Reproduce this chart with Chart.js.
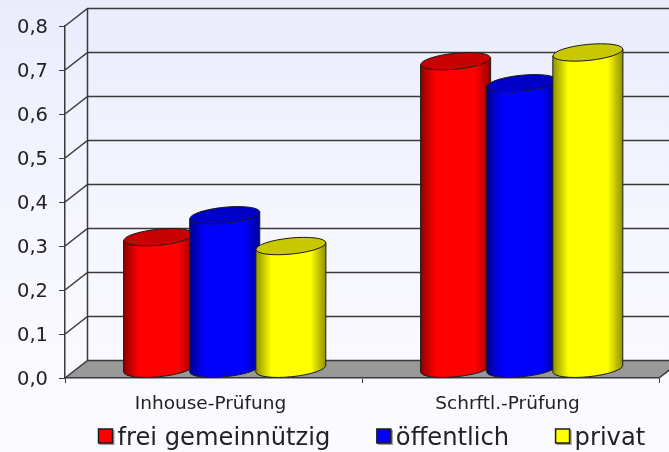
<!DOCTYPE html>
<html>
<head>
<meta charset="utf-8">
<style>html,body{margin:0;padding:0;background:#fafaff;overflow:hidden}canvas{display:block}</style>
<script src="https://cdn.jsdelivr.net/npm/chart.js@4"></script>
</head>
<body>
<canvas id="c" width="669" height="452"></canvas>
<script>
const categories = ["Inhouse-Prüfung", "Schrftl.-Prüfung"];
const freiGemeinnuetzig = [0.30, 0.70];
const oeffentlich = [0.35, 0.65];
const privat = [0.28, 0.72];
const seriesNames = ["frei gemeinnützig", "öffentlich", "privat"];
const seriesColors = ["#ff0000", "#0000ff", "#ffff00"];
const edgeColors = ["#900000", "#000090", "#909000"];
const capColors = ["#c80000", "#0000c8", "#c8c800"];

const DX = 22.5, DY = 17.5, RY = 8, TILT = -0.1;
const FONT = '"DejaVu Sans", sans-serif';
const LINE = "#3a3a3a", TEXT = "#222222";

const scene = {
  id: "scene",
  beforeDraw(chart) {
    const { ctx, width, height, scales: { y }, chartArea: a } = chart;
    const bg = ctx.createLinearGradient(0, 0, 0, height);
    bg.addColorStop(0, "#eaecfc");
    bg.addColorStop(0.55, "#f6f7fe");
    bg.addColorStop(1, "#fbfbff");
    ctx.save();
    ctx.fillStyle = bg;
    ctx.fillRect(0, 0, width, height);
    const y0 = y.getPixelForValue(0);
    ctx.fillStyle = "#999999";
    ctx.beginPath();
    ctx.moveTo(a.left, y0);
    ctx.lineTo(a.left + DX, y0 - DY);
    ctx.lineTo(a.right + DX, y0 - DY);
    ctx.lineTo(a.right, y0);
    ctx.closePath();
    ctx.fill();
    ctx.strokeStyle = LINE;
    ctx.lineWidth = 1.5;
    y.ticks.forEach(t => {
      const p = y.getPixelForValue(t.value);
      ctx.beginPath();
      ctx.moveTo(a.left, p);
      ctx.lineTo(a.left + DX, p - DY);
      ctx.lineTo(width + 2, p - DY);
      ctx.stroke();
    });
    ctx.beginPath();
    ctx.moveTo(a.left + DX, y.getPixelForValue(y.max) - DY);
    ctx.lineTo(a.left + DX, y0 - DY);
    ctx.stroke();
    ctx.beginPath();
    ctx.moveTo(a.right, y0);
    ctx.lineTo(a.right + DX, y0 - DY);
    ctx.stroke();
    ctx.restore();
  },
  beforeDatasetDraw() {
    return false;
  },
  afterDatasetsDraw(chart) {
    const { ctx } = chart;
    ctx.save();
    ctx.lineWidth = 1;
    ctx.strokeStyle = "#1c1c1c";
    chart.data.datasets.forEach((ds, i) => {
      chart.getDatasetMeta(i).data.forEach(bar => {
        const cx = bar.x + DX / 2, rx = bar.width / 2;
        const topY = bar.y - DY / 2, botY = bar.base - DY / 2;
        const lift = rx * Math.sin(-TILT);
        const g = ctx.createLinearGradient(cx - rx, 0, cx + rx, 0);
        g.addColorStop(0, edgeColors[i]);
        g.addColorStop(0.22, seriesColors[i]);
        g.addColorStop(0.78, seriesColors[i]);
        g.addColorStop(1, edgeColors[i]);
        ctx.fillStyle = g;
        ctx.beginPath();
        ctx.moveTo(cx - rx, topY + lift);
        ctx.lineTo(cx - rx, botY + lift);
        ctx.ellipse(cx, botY, rx, RY, TILT, Math.PI, 0, true);
        ctx.lineTo(cx + rx, topY - lift);
        ctx.closePath();
        ctx.fill();
        ctx.stroke();
        ctx.fillStyle = capColors[i];
        ctx.beginPath();
        ctx.ellipse(cx, topY, rx, RY, TILT, 0, Math.PI * 2);
        ctx.fill();
        ctx.stroke();
      });
    });
    ctx.restore();
  },
  afterDraw(chart) {
    const { ctx } = chart;
    const yText = 439, gap = 46.5, box = 14;
    let x = 98.5;
    ctx.save();
    ctx.font = "24.2px " + FONT;
    ctx.textBaseline = "middle";
    chart.data.datasets.forEach(ds => {
      ctx.fillStyle = "#999999";
      ctx.fillRect(x + 1, yText - 9, box + 1, box + 1);
      ctx.fillStyle = ds.backgroundColor;
      ctx.strokeStyle = "#1c1c1c";
      ctx.lineWidth = 1.5;
      ctx.fillRect(x, yText - 10, box, box);
      ctx.strokeRect(x, yText - 10, box, box);
      ctx.fillStyle = TEXT;
      ctx.fillText(ds.label, x + 19, yText);
      x += 19 + ctx.measureText(ds.label).width + gap;
    });
    ctx.restore();
  }
};

new Chart(document.getElementById("c"), {
  type: "bar",
  data: {
    labels: categories,
    datasets: [
      { label: seriesNames[0], data: freiGemeinnuetzig, backgroundColor: seriesColors[0] },
      { label: seriesNames[1], data: oeffentlich, backgroundColor: seriesColors[1] },
      { label: seriesNames[2], data: privat, backgroundColor: seriesColors[2] }
    ]
  },
  plugins: [scene],
  options: {
    responsive: false,
    animation: false,
    categoryPercentage: 0.668,
    barPercentage: 1.06,
    layout: { padding: { top: 26, right: 10, left: 0, bottom: 0 } },
    plugins: { legend: { display: false }, title: { display: false }, tooltip: { enabled: false } },
    scales: {
      x: {
        afterFit(s) { s.height = 74; },
        border: { color: LINE, width: 1.5 },
        grid: { drawOnChartArea: false, color: LINE, tickLength: 5, offset: true },
        ticks: { font: { family: FONT, size: 18.5 }, color: TEXT, padding: 10, labelOffset: -3, maxRotation: 0 }
      },
      y: {
        min: 0, max: 0.8,
        afterFit(s) { s.width = 65; },
        border: { color: LINE, width: 1.5 },
        grid: { drawOnChartArea: false, color: LINE, tickLength: 6 },
        ticks: {
          stepSize: 0.1,
          font: { family: FONT, size: 19.5 },
          labelOffset: 2,
          color: TEXT, padding: 11,
          callback: v => v.toFixed(1).replace(".", ",")
        }
      }
    }
  }
});
</script>
</body>
</html>
